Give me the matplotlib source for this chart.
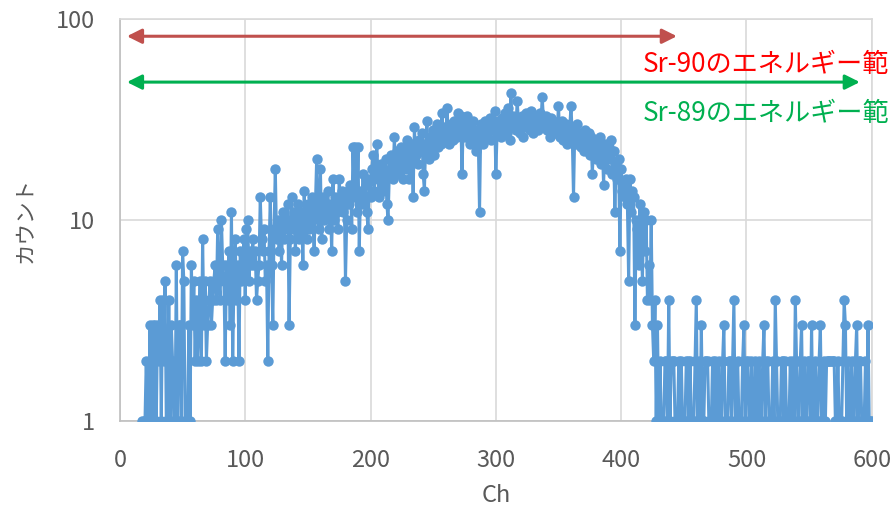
import numpy as np
import matplotlib
matplotlib.use("Agg")
import matplotlib.pyplot as plt

plt.rcParams['font.family'] = ['Noto Sans CJK JP', 'DejaVu Sans']

# counts per channel, starting at channel 18
counts = [
    1, 1, 1, 2, 1, 1, 3, 1, 3, 1,
    3, 1, 3, 2, 4, 1, 4, 2, 5, 1,
    1, 4, 1, 3, 2, 1, 1, 6, 1, 3,
    3, 1, 7, 5, 1, 1, 1, 3, 1, 6,
    3, 5, 2, 4, 2, 3, 5, 2, 8, 3,
    5, 2, 3, 4, 5, 3, 4, 5, 6, 4,
    9, 5, 4, 10, 6, 5, 2, 6, 4, 7,
    3, 11, 2, 5, 8, 4, 6, 2, 7, 5,
    6, 8, 4, 9, 10, 5, 7, 6, 8, 6,
    7, 4, 5, 6, 13, 8, 7, 9, 5, 6,
    2, 7, 13, 6, 3, 9, 18, 8, 10, 7,
    9, 6, 11, 8, 10, 9, 12, 3, 8, 13,
    9, 11, 7, 10, 12, 8, 9, 11, 6, 14,
    10, 8, 12, 9, 11, 13, 10, 7, 12, 20,
    11, 9, 18, 8, 13, 10, 12, 11, 14, 9,
    12, 7, 16, 10, 13, 11, 9, 16, 12, 14,
    11, 13, 5, 10, 14, 12, 15, 9, 23, 13,
    23, 11, 23, 7, 14, 12, 17, 13, 15, 11,
    9, 16, 13, 18, 21, 14, 17, 24, 16, 13,
    19, 15, 14, 18, 20, 12, 10, 17, 21, 19,
    16, 26, 18, 22, 17, 20, 23, 19, 16, 21,
    18, 25, 22, 16, 20, 24, 13, 29, 21, 23,
    19, 25, 22, 27, 17, 14, 24, 31, 22, 20,
    26, 24, 28, 21, 25, 30, 23, 27, 24, 34,
    26, 29, 25, 36, 28, 24, 30, 27, 25, 31,
    29, 26, 34, 28, 33, 17, 30, 26, 32, 33,
    27, 24, 29, 28, 31, 26, 22, 28, 25, 11,
    30, 27, 24, 31, 28, 26, 29, 32, 25, 30,
    28, 35, 17, 27, 31, 29, 26, 32, 28, 34,
    30, 27, 36, 25, 43, 29, 33, 31, 28, 39,
    32, 27, 30, 33, 26, 31, 34, 29, 32, 28,
    35, 30, 27, 33, 29, 31, 28, 34, 30, 41,
    32, 29, 33, 28, 30, 26, 32, 29, 31, 27,
    30, 28, 37, 26, 29, 31, 25, 28, 30, 24,
    27, 29, 37, 26, 13, 28, 24, 30, 25, 27,
    23, 26, 22, 28, 25, 24, 27, 21, 26, 17,
    23, 25, 20, 24, 22, 26, 19, 23, 15, 24,
    21, 18, 23, 20, 25, 17, 22, 11, 19, 16,
    20, 7, 18, 14, 15, 13, 16, 12, 5, 16,
    11, 14, 13, 3, 10, 9, 6, 12, 8, 5,
    11, 7, 10, 4, 6, 4, 10, 3, 2, 4,
    1, 3, 1, 2, 1, 1, 1, 2, 2, 1,
    4, 1, 2, 2, 2, 1, 1, 1, 2, 1,
    2, 1, 1, 1, 2, 2, 1, 2, 1, 1,
    1, 2, 4, 1, 2, 1, 3, 1, 1, 2,
    2, 2, 1, 1, 1, 2, 1, 2, 1, 1,
    2, 1, 1, 2, 3, 1, 1, 1, 2, 2,
    1, 2, 4, 1, 1, 2, 1, 1, 1, 2,
    3, 1, 2, 2, 1, 1, 2, 1, 1, 2,
    1, 1, 2, 1, 1, 2, 3, 1, 2, 2,
    1, 1, 1, 2, 1, 4, 2, 1, 1, 1,
    2, 2, 1, 2, 1, 1, 1, 2, 1, 2,
    1, 4, 2, 1, 1, 2, 3, 1, 2, 1,
    1, 2, 2, 1, 3, 1, 1, 2, 1, 1,
    2, 3, 1, 1, 2, 1, 2, 2, 2, 2,
    2, 2, 2, 1, 1, 2, 1, 1, 1, 2,
    4, 3, 1, 2, 1, 1, 2, 1, 1, 2,
    3, 1, 2, 2, 1, 1, 1, 2, 1, 3,
    1, 1, 1,
]
ch = np.arange(18, 18 + len(counts))

xticks = [0, 100, 200, 300, 400, 500, 600]
yticks = [1, 10, 100]
ytick_labels = ['1', '10', '100']

sr90_range = (5.6, 444.5, 82)   # x start, x end, y
sr89_range = (5.6, 590.5, 48.5)

fig = plt.figure(figsize=(8.95, 5.11), dpi=100)
ax = fig.add_axes([0.134, 0.176, 0.840, 0.787])

ax.plot(ch, counts, color='#5B9BD5', lw=2.2, marker='o', ms=7.5,
        markeredgewidth=0, zorder=3)

ax.set_yscale('log')
ax.set_xlim(0, 600)
ax.set_ylim(1, 100)
ax.set_xticks(xticks)
ax.set_yticks(yticks)
ax.set_yticklabels(ytick_labels)
ax.yaxis.set_minor_locator(matplotlib.ticker.NullLocator())
ax.tick_params(length=0, labelsize=17, labelcolor='#595959')
ax.tick_params(axis='x', pad=20)
ax.tick_params(axis='y', pad=18)
ax.grid(True, color='#D9D9D9', lw=1.2)
ax.set_axisbelow(True)
for s in ['top', 'right']:
    ax.spines[s].set_color('#D9D9D9')
for s in ['left', 'bottom']:
    ax.spines[s].set_color('#BFBFBF')
for s in ax.spines.values():
    s.set_linewidth(1.2)

ax.set_xlabel('Ch', fontsize=17, color='#595959', labelpad=9)
ax.set_ylabel('カウント', fontsize=15.5, color='#595959', labelpad=14)

ax.annotate('', xy=(sr90_range[1], sr90_range[2]), xytext=(sr90_range[0], sr90_range[2]),
            arrowprops=dict(arrowstyle='<|-|>', color='#C0504D', lw=2.2,
                            mutation_scale=22, shrinkA=0, shrinkB=0))
ax.annotate('', xy=(sr89_range[1], sr89_range[2]), xytext=(sr89_range[0], sr89_range[2]),
            arrowprops=dict(arrowstyle='<|-|>', color='#00B050', lw=2.2,
                            mutation_scale=22, shrinkA=0, shrinkB=0))

ax.text(417, 59, 'Sr-90のエネルギー範', color='#FF0000', fontsize=18.8,
        ha='left', va='center', clip_on=False)
ax.text(417, 34, 'Sr-89のエネルギー範', color='#00B050', fontsize=18.8,
        ha='left', va='center', clip_on=False)

fig.savefig('out.png', dpi=100)
